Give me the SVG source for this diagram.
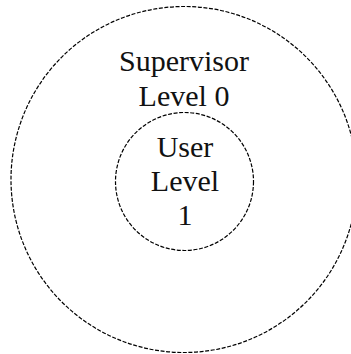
<svg xmlns="http://www.w3.org/2000/svg" width="351" height="354" viewBox="0 0 351 354">
  <style>
    .ring { fill: none; stroke: #000; stroke-width: 1.2; stroke-dasharray: 4 1.6; }
    .lbl { font-family: "Liberation Serif", "DejaVu Serif", serif; font-size: 30px; fill: #111; text-anchor: middle; }
  </style>
  <rect width="351" height="354" fill="#fff"/>
  <!-- outer privilege ring -->
  <g id="supervisor">
    <circle class="ring" cx="184" cy="179.5" r="173"/>
    <text class="lbl" x="184" y="71">Supervisor</text>
    <text class="lbl" x="184" y="106">Level 0</text>
  </g>
  <!-- inner privilege ring -->
  <g id="user">
    <circle class="ring" cx="184.5" cy="181.5" r="69"/>
    <text class="lbl" x="185" y="157">User</text>
    <text class="lbl" x="185" y="191">Level</text>
    <text class="lbl" x="185" y="225">1</text>
  </g>
</svg>
